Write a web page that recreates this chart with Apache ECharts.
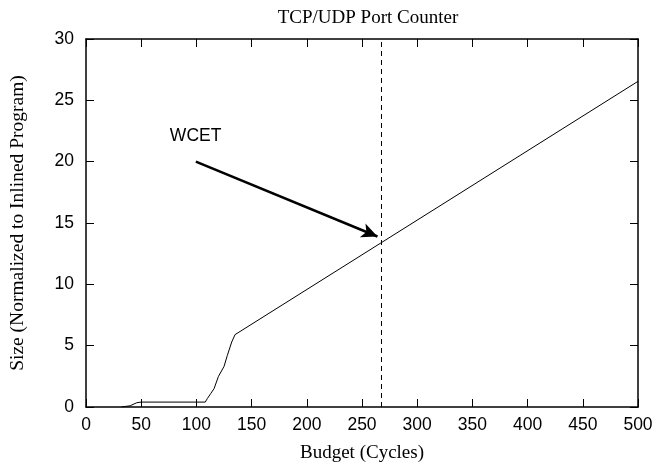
<!DOCTYPE html>
<html>
<head>
<meta charset="utf-8">
<script src="https://cdn.jsdelivr.net/npm/echarts@6/dist/echarts.min.js"></script>
<style>html,body{margin:0;padding:0;background:#fff;}#c{width:657px;height:468px;}</style>
</head>
<body>
<div id="c"></div>
<script>
var budget = [32, 40, 46, 50, 108, 110, 113, 116, 120, 125, 128, 132, 135, 500];
var size   = [0, 0.1, 0.35, 0.4, 0.4, 0.7, 1.1, 1.5, 2.5, 3.3, 4.2, 5.3, 5.9, 26.55];
var wcetX = 267;
var arrowStart = [99.5, 20.0];
var arrowEnd = [264, 13.9];
var labelPos = [99.3, 22.1];
var xTicks = [0, 50, 100, 150, 200, 250, 300, 350, 400, 450, 500];
var yTicks = [0, 5, 10, 15, 20, 25, 30];

var pts = [];
for (var i = 0; i < budget.length; i++) { pts.push([budget[i], size[i]]); }

var chart = echarts.init(document.getElementById('c'));
var serif = '"Liberation Serif", "DejaVu Serif", serif';
var sans = '"Liberation Sans", Arial, sans-serif';
var axisCommon = {
  axisLine: {show: true, onZero: false, lineStyle: {color: '#000', width: 1.5}},
  axisTick: {show: true, inside: true, length: 8, lineStyle: {color: '#000', width: 1}},
  splitLine: {show: false}
};
chart.setOption({
  animation: false,
  title: {text: 'TCP/UDP Port Counter', left: 363, textAlign: 'center', top: 4,
    textStyle: {fontFamily: serif, fontSize: 19, fontWeight: 'normal', color: '#000'}},
  grid: {left: 84, right: 19, top: 39, bottom: 61},
  xAxis: [
    Object.assign({type: 'value', min: 0, max: 500, interval: 50, position: 'bottom',
      name: 'Budget (Cycles)', nameLocation: 'middle', nameGap: 37,
      nameTextStyle: {fontFamily: serif, fontSize: 19, color: '#000'},
      axisLabel: {fontFamily: sans, fontSize: 17.5, color: '#000', margin: 9}}, axisCommon),
    Object.assign({type: 'value', min: 0, max: 500, interval: 50, position: 'top',
      axisLabel: {show: false}}, axisCommon)
  ],
  yAxis: [
    Object.assign({type: 'value', min: 0, max: 30, interval: 5, position: 'left',
      name: 'Size (Normalized to Inlined Program)', nameLocation: 'middle', nameGap: 58,
      nameTextStyle: {fontFamily: serif, fontSize: 19.5, color: '#000'},
      axisLabel: {fontFamily: sans, fontSize: 17.5, color: '#000', margin: 12}}, axisCommon),
    Object.assign({type: 'value', min: 0, max: 30, interval: 5, position: 'right',
      axisLabel: {show: false}}, axisCommon)
  ],
  series: [{
    type: 'line', data: pts, symbol: 'none', xAxisIndex: 0, yAxisIndex: 0,
    lineStyle: {color: '#000', width: 1},
    markLine: {
      silent: true, animation: false,
      data: [
        [{coord: [wcetX, 0], symbol: 'none'}, {coord: [wcetX, 30], symbol: 'none'}],
        [{coord: arrowStart, symbol: 'none', lineStyle: {type: 'solid', width: 2.5, color: '#000'}},
         {coord: arrowEnd, symbol: 'arrow', symbolSize: [11, 16]}]
      ],
      lineStyle: {type: [5, 4], color: '#000', width: 1},
      label: {show: false}
    },
    markPoint: {
      silent: true, animation: false,
      data: [{coord: labelPos, symbol: 'circle', symbolSize: 0,
        label: {show: true, formatter: 'WCET', position: 'inside', fontFamily: sans, fontSize: 17.5, color: '#000'}}]
    }
  }]
});
</script>
</body>
</html>
